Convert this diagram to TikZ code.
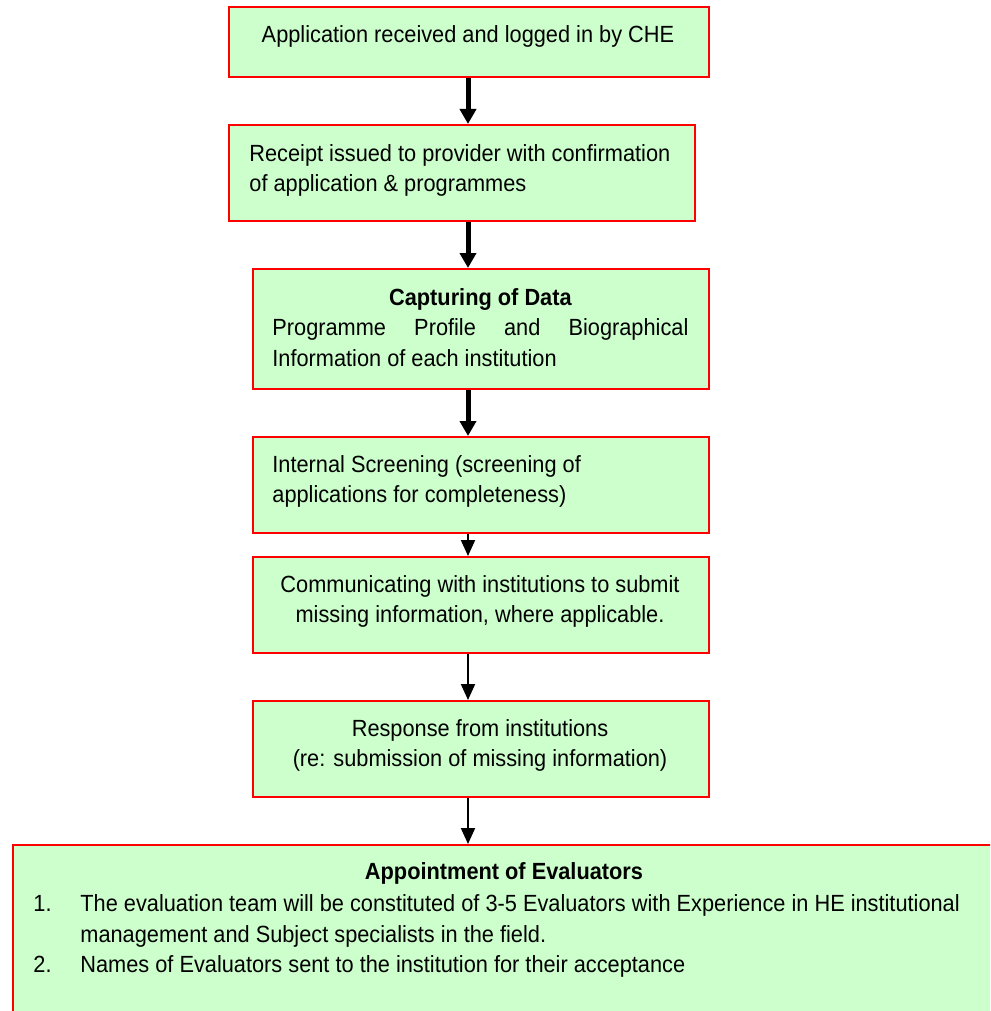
\documentclass[tikz,border=0pt]{standalone}
\usepackage{fontspec}
\setmainfont{Liberation Sans}[FakeStretch=0.93]
\usetikzlibrary{arrows.meta}
\definecolor{mintgreen}{RGB}{204,255,204}
\definecolor{signalred}{RGB}{255,0,0}

\begin{document}
\begin{tikzpicture}[x=0.5pt,y=-0.5pt,
    stage/.style={draw=signalred, fill=mintgreen, line width=1pt, inner sep=0pt, anchor=north west},
    words/.style={inner sep=0pt, font=\fontsize{11.7}{15.25}\selectfont},
    bigflow/.style={line width=2.5pt, -{Triangle[length=7.5pt,width=8pt]}},
    flow/.style={line width=1pt, -{Triangle[length=8pt,width=7pt]}}]
            \useasboundingbox (0,0) rectangle (990,1011);
            \clip (0,0) rectangle (990,1011);
            % boxes
            \node[stage, minimum width=240pt, minimum height=35pt] (recv)     at (228,  6) {};
            \node[stage, minimum width=233pt, minimum height=48pt] (receipt)  at (228,124) {};
            \node[stage, minimum width=228pt, minimum height=60pt] (capture)  at (252,268) {};
            \node[stage, minimum width=228pt, minimum height=48pt] (screen)   at (252,436) {};
            \node[stage, minimum width=228pt, minimum height=48pt] (missing)  at (252,556) {};
            \node[stage, minimum width=228pt, minimum height=48pt] (response) at (252,700) {};
            \node[stage, minimum width=500pt, minimum height=95pt] (appoint)  at ( 12,844) {};
            % texts
            \node[words, anchor=north] (recvtext) at (468,25) {Application received and logged in by CHE};
            \node[words, anchor=north west, align=left] (receipttext) at (249,144)
                {Receipt issued to provider with confirmation\\of application \& programmes};
            \node[words, anchor=north west, text width=208pt, align=justify] (capturetext) at (272,288)
                {{\centering\bfseries Capturing of Data\par}Programme Profile and Biographical\linebreak Information of each institution};
            \node[words, anchor=north west, align=left] (screentext) at (272,455)
                {Internal Screening (screening of\\applications for completeness)};
            \node[words, anchor=north, align=center] (missingtext) at (480,575)
                {Communicating with institutions to submit\\missing information, where applicable.};
            \node[words, anchor=north, align=center] (responsetext) at (480,719)
                {Response from institutions\\(re: submission of missing information)};
            \node[words, anchor=north, font=\fontsize{11.7}{15.25}\selectfont\bfseries] (appointtitle) at (504,862)
                {Appointment of Evaluators};
            \node[words, anchor=north west] (appointlist) at (33,890)
                {\begin{tabular}{@{}p{23.5pt}@{}l@{}}
                 1. & The evaluation team will be constituted of 3-5 Evaluators with Experience in HE institutional\\
                    & management and Subject specialists in the field.\\
                 2. & Names of Evaluators sent to the institution for their acceptance
                 \end{tabular}};
            % arrows
            \coordinate (spine) at (468,0);
            \draw[bigflow] (spine |- recv.south)     -- (spine |- receipt.north);
            \draw[bigflow] (spine |- receipt.south)  -- (spine |- capture.north);
            \draw[bigflow] (spine |- capture.south)  -- (spine |- screen.north);
            \draw[flow]    (spine |- screen.south)   -- (spine |- missing.north);
            \draw[flow]    (spine |- missing.south)  -- (spine |- response.north);
            \draw[flow]    (spine |- response.south) -- (spine |- appoint.north);
        \end{tikzpicture}
\end{document}
